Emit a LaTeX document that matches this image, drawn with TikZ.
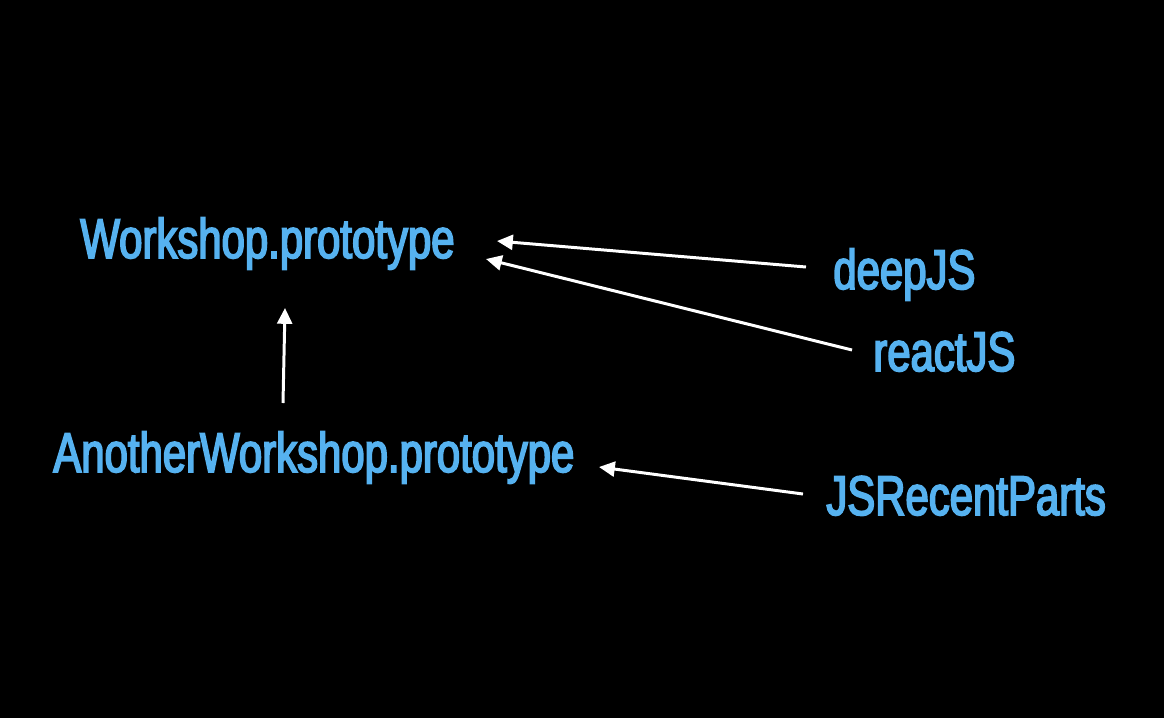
\documentclass[tikz,border=0pt]{standalone}
\usepackage{fontspec}
\setmainfont{Liberation Sans}[FakeStretch=0.75,FakeBold=3]
\usetikzlibrary{arrows.meta}
\definecolor{lbl}{RGB}{86,178,240}
\begin{document}
\begin{tikzpicture}[x=0.02cm,y=-0.02cm,
  lab/.style={anchor=base west,inner sep=0pt,text=lbl,font=\fontsize{31.8}{36}\selectfont},
  arr/.style={draw=white,line width=1.7pt,-{Triangle[length=9pt,width=8.5pt]}}]
\fill[black] (0,0) rectangle (1164,718);
\useasboundingbox (0,0) rectangle (1164,718);
\node[lab] (wp) at (80,258) {Workshop.prototype};
\node[lab] (dj) at (833,289) {deepJS};
\node[lab] (rj) at (873,371) {reactJS};
\node[lab] (awp) at (53,472) {AnotherWorkshop.prototype};
\node[lab] (jsr) at (826,515) {JSRecentParts};
\coordinate (djs) at (806,267);
\coordinate (djt) at (497,241);
\coordinate (rjs) at (852,350);
\coordinate (rjt) at (486,259);
\coordinate (vs) at (283,403);
\coordinate (vt) at (285,308);
\coordinate (jss) at (803,494);
\coordinate (jst) at (599,467);
\draw[arr] (djs) -- (djt);
\draw[arr] (rjs) -- (rjt);
\draw[arr] (vs) -- (vt);
\draw[arr] (jss) -- (jst);
\end{tikzpicture}
\end{document}
